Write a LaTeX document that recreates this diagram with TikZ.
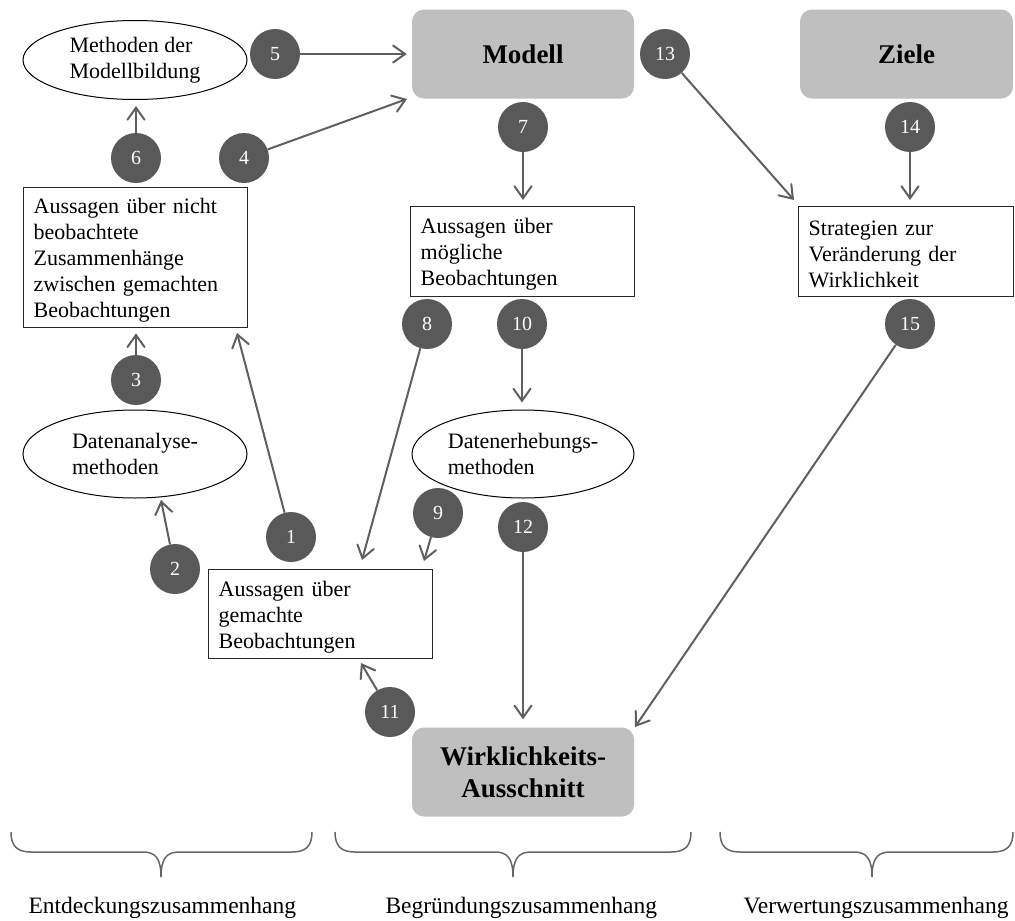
\documentclass[tikz,border=0pt]{standalone}
\usepackage{fontspec}
\setmainfont{Liberation Serif}
\usetikzlibrary{arrows.meta,shapes.geometric}

\definecolor{numfill}{HTML}{595959}
\definecolor{arrowgray}{HTML}{5F5F5F}
\definecolor{panelgray}{HTML}{BFBFBF}
\definecolor{bracegray}{HTML}{666666}

% curly brace under a column: left end, tip, right end
\newcommand{\colbrace}[3]{%
  \draw[bracestroke] (#1,832) .. controls (#1,846) and (#1+6,852) .. (#1+20,852)
    -- (#2-18,852) .. controls (#2-6,852) and (#2,858) .. (#2,877)
    .. controls (#2,858) and (#2+6,852) .. (#2+18,852)
    -- (#3-20,852) .. controls (#3-6,852) and (#3,846) .. (#3,832);}

\begin{document}
\begin{tikzpicture}[x=1pt,y=-1pt,
  num/.style={circle,fill=numfill,text=white,minimum size=50pt,inner sep=0pt,
    font=\fontsize{20}{20}\selectfont},
  stmt/.style={draw=black!85,line width=1.3pt,fill=white,text width=#1,align=left,
    inner xsep=10pt,inner ysep=0pt,anchor=north west,
    execute at begin node={\rule{0pt}{21pt}},
    font=\fontsize{22}{26}\selectfont},
  method/.style={ellipse,draw=black,line width=1pt,inner sep=0pt,align=left,
    font=\fontsize{22}{26}\selectfont},
  panel/.style={fill=panelgray,rounded corners=12pt,minimum height=89pt,inner sep=0pt,
    align=center,font=\fontsize{27}{32}\selectfont\bfseries},
  arr/.style={draw=arrowgray,line width=2pt,
    -{Straight Barb[length=12pt,width=17pt,line cap=round]}},
  bracestroke/.style={draw=bracegray,line width=1.5pt},
  context/.style={font=\fontsize{23.5}{26}\selectfont}
]
\useasboundingbox (0,0) rectangle (1015,921);

% main concepts
\node[panel,minimum width=222pt] (modell) at (523,54) {Modell};
\node[panel,minimum width=213pt] (ziele) at (906.5,54) {Ziele};
\node[panel,minimum width=222pt] (wirk) at (523,772) {Wirklichkeits-\\Ausschnitt};

% method ellipses
\node[method,minimum width=224pt,minimum height=79pt] (mmb) at (135,60) {Methoden der\\Modellbildung};
\node[method,minimum width=224pt,minimum height=88pt] (dam) at (135,454) {Datenanalyse-\\methoden};
\node[method,minimum width=222pt,minimum height=88pt] (dem) at (523,454) {Datenerhebungs-\\methoden};

% statements
\node[stmt=204pt,minimum height=140pt] (nicht) at (23,187)
  {Aussagen über nicht\\beobachtete\\Zusammenhänge\\zwischen gemachten\\Beobachtungen};
\node[stmt=204pt,minimum height=90pt] (moeglich) at (410,206)
  {Aussagen über\\mögliche\\Beobachtungen};
\node[stmt=195pt,minimum height=90pt] (strat) at (798,206)
  {Strategien zur\\Veränderung der\\Wirklichkeit};
\node[stmt=204pt,minimum height=89pt] (gemacht) at (208,569)
  {Aussagen über\\gemachte\\Beobachtungen};

% numbered steps
\node[num] (c1) at (291,537) {1};
\node[num] (c2) at (175,569) {2};
\node[num] (c3) at (136,380) {3};
\node[num] (c4) at (244,158) {4};
\node[num] (c5) at (275,54) {5};
\node[num] (c6) at (136,158) {6};
\node[num] (c7) at (523,127) {7};
\node[num] (c8) at (427,324) {8};
\node[num] (c9) at (438,513) {9};
\node[num] (c10) at (522,324) {10};
\node[num] (c11) at (390,712) {11};
\node[num] (c12) at (523,527) {12};
\node[num] (c13) at (665,54) {13};
\node[num] (c14) at (910,127) {14};
\node[num] (c15) at (910,324) {15};

% free arrow ends
\coordinate (t1) at (237,333);
\coordinate (t2) at (161,500);
\coordinate (t4) at (407,99);
\coordinate (t8) at (362,560);
\coordinate (t9) at (424,561);
\coordinate (t11) at (361,663);
\coordinate (t13) at (794,200);
\coordinate (t15) at (635,727);

% connectors
\draw[arr] (c1) -- (t1);
\draw[arr] (c2) -- (t2);
\draw[arr,shorten >=5pt] (c3) -- (c3 |- nicht.south);
\draw[arr] (c4) -- (t4);
\draw[arr,shorten >=5pt] (c5) -- (c5 -| modell.west);
\draw[arr,shorten >=6pt] (c6) -- (c6 |- mmb.south);
\draw[arr,shorten >=6pt] (c7) -- (c7 |- moeglich.north);
\draw[arr] (c8) -- (t8);
\draw[arr] (c9) -- (t9);
\draw[arr,shorten >=7pt] (c10) -- (c10 |- dem.north);
\draw[arr] (c11) -- (t11);
\draw[arr,shorten >=8pt] (c12) -- (c12 |- wirk.north);
\draw[arr] (c13) -- (t13);
\draw[arr,shorten >=6pt] (c14) -- (c14 |- strat.north);
\draw[arr] (c15) -- (t15);

% contexts
\colbrace{11}{161}{312}
\colbrace{335}{513}{691}
\colbrace{720}{872}{1013}
\node[context,anchor=base west] (ctx1) at (25,913) {Entdeckungszusammenhang};
\node[context,anchor=base west] (ctx2) at (382,913) {Begründungszusammenhang};
\node[context,anchor=base east] (ctx3) at (1012,913) {Verwertungszusammenhang};
\end{tikzpicture}
\end{document}
